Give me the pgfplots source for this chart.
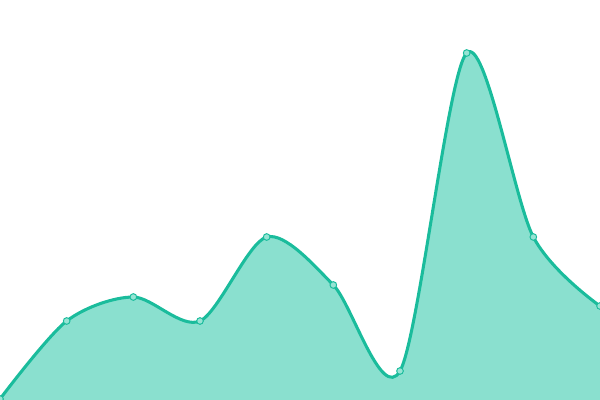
\documentclass[border=0pt]{standalone}
\usepackage{pgfplots}
\pgfplotsset{compat=1.18}
\definecolor{linec}{RGB}{26,188,156}
\definecolor{fillc}{RGB}{138,224,207}
\definecolor{markc}{RGB}{150,228,212}
\begin{document}
\begin{tikzpicture}
\begin{axis}[
  width=432pt, height=288pt, scale only axis,
  xmin=0, xmax=9, ymin=0, ymax=400,
  hide axis, clip=true, clip marker paths=true,
]
\path (rel axis cs:0,0) rectangle (rel axis cs:1,1);
\addplot[draw=none, fill=fillc, smooth, tension=0.5] coordinates {
(0,1) (1,79) (2,103) (3,79) (4,163) (5,115) (6,29) (7,347) (8,163) (9,94)
} \closedcycle;
\addplot[linec, line width=2.2pt, smooth, tension=0.5,
  mark=*, mark size=2.4pt,
  mark options={fill=markc, draw=linec, line width=0.7pt}] coordinates {
(0,1) (1,79) (2,103) (3,79) (4,163) (5,115) (6,29) (7,347) (8,163) (9,94)
};
\end{axis}
\end{tikzpicture}
\end{document}
